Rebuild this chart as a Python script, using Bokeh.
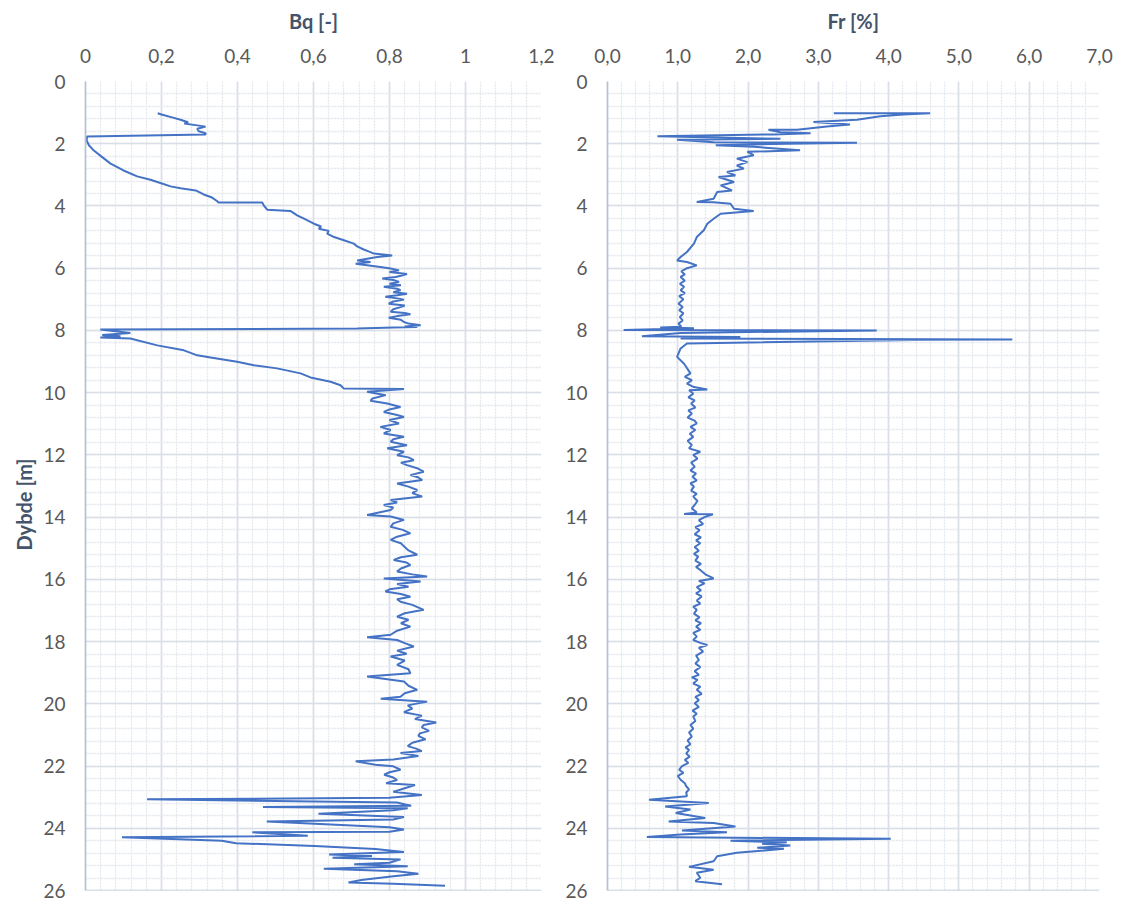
import numpy as np
from bokeh.plotting import figure
from bokeh.models import (Range1d, LinearAxis, SingleIntervalTicker, FixedTicker,
                          CustomJSTickFormatter, Span, Title, ColumnDataSource)
from bokeh.layouts import row
from bokeh.embed import file_html
from bokeh.resources import INLINE

# ---------------- data ----------------
bq_depth = [1.02, 1.06, 1.16, 1.23, 1.31, 1.35, 1.41, 1.45, 1.52, 1.60, 1.66, 1.70,
            1.77, 1.89, 2.05, 2.22, 2.43, 2.64, 2.86, 3.05, 3.16, 3.26, 3.37, 3.43,
            3.50, 3.63, 3.73, 3.84, 3.89, 3.89, 3.98, 4.12, 4.16, 4.30, 4.41, 4.57,
            4.66, 4.73, 4.80, 4.89, 5.00, 5.10, 5.21, 5.30, 5.40, 5.46, 5.53, 5.59,
            5.64, 5.75, 5.80, 5.86, 5.96, 6.01, 6.07, 6.12, 6.19, 6.24, 6.28, 6.33,
            6.38, 6.44, 6.50, 6.55, 6.60, 6.66, 6.71, 6.77, 6.82, 6.87, 6.92, 6.97,
            7.01, 7.07, 7.14, 7.20, 7.25, 7.32, 7.40, 7.44, 7.48, 7.54, 7.59, 7.66,
            7.73, 7.78, 7.83, 7.87, 7.89, 7.91, 7.94, 7.97, 8.08, 8.15, 8.19, 8.23,
            8.26, 8.48, 8.64, 8.80, 8.87, 9.01, 9.12, 9.22, 9.38, 9.51, 9.65, 9.76,
            9.87, 9.88, 9.97, 10.08, 10.19, 10.26, 10.35, 10.46, 10.54, 10.62, 10.72, 10.78,
            10.88, 10.99, 11.10, 11.20, 11.31, 11.42, 11.50, 11.58, 11.69, 11.79, 11.90, 12.01,
            12.08, 12.17, 12.25, 12.33, 12.44, 12.54, 12.65, 12.72, 12.81, 12.92, 13.02, 13.13,
            13.23, 13.34, 13.45, 13.53, 13.61, 13.69, 13.77, 13.93, 13.98, 14.09, 14.20, 14.31,
            14.41, 14.52, 14.63, 14.73, 14.84, 14.94, 15.07, 15.21, 15.29, 15.38, 15.46, 15.54,
            15.65, 15.75, 15.84, 15.91, 15.97, 16.07, 16.15, 16.24, 16.32, 16.39, 16.47, 16.56,
            16.64, 16.72, 16.82, 16.98, 17.09, 17.20, 17.30, 17.41, 17.52, 17.65, 17.78, 17.86,
            17.95, 18.05, 18.16, 18.29, 18.39, 18.48, 18.61, 18.75, 18.89, 19.02, 19.12, 19.28,
            19.42, 19.55, 19.66, 19.77, 19.84, 19.93, 20.05, 20.15, 20.27, 20.38, 20.49, 20.60,
            20.68, 20.76, 20.87, 20.95, 21.03, 21.14, 21.25, 21.36, 21.44, 21.52, 21.58, 21.68,
            21.79, 21.85, 21.96, 22.01, 22.12, 22.20, 22.28, 22.37, 22.45, 22.55, 22.61, 22.72,
            22.83, 22.93, 23.02, 23.07, 23.17, 23.28, 23.32, 23.36, 23.42, 23.53, 23.64, 23.72,
            23.78, 23.97, 24.04, 24.11, 24.13, 24.24, 24.29, 24.40, 24.48, 24.57, 24.67, 24.76,
            24.84, 24.89, 24.95, 25.00, 25.11, 25.16, 25.22, 25.30, 25.38, 25.46, 25.54, 25.66,
            25.74, 25.78, 25.85]
bq_value = [0.19, 0.20, 0.23, 0.25, 0.27, 0.26, 0.294, 0.316, 0.294, 0.298, 0.316, 0.316,
            0.004, 0.003, 0.009, 0.022, 0.044, 0.066, 0.10, 0.136, 0.171, 0.197, 0.224, 0.25,
            0.29, 0.311, 0.333, 0.346, 0.35, 0.465, 0.469, 0.478, 0.539, 0.557, 0.575, 0.601,
            0.62, 0.614, 0.64, 0.636, 0.654, 0.68, 0.706, 0.715, 0.732, 0.745, 0.759, 0.807,
            0.768, 0.715, 0.75, 0.711, 0.776, 0.803, 0.825, 0.80, 0.846, 0.83, 0.816, 0.781,
            0.81, 0.825, 0.80, 0.83, 0.785, 0.82, 0.829, 0.81, 0.846, 0.82, 0.789, 0.82,
            0.838, 0.81, 0.798, 0.84, 0.829, 0.81, 0.803, 0.84, 0.855, 0.82, 0.798, 0.83,
            0.838, 0.85, 0.882, 0.84, 0.873, 0.811, 0.715, 0.039, 0.118, 0.044, 0.092, 0.039,
            0.118, 0.189, 0.259, 0.294, 0.329, 0.399, 0.443, 0.504, 0.566, 0.592, 0.645, 0.671,
            0.68, 0.838, 0.741, 0.79, 0.755, 0.75, 0.794, 0.829, 0.80, 0.785, 0.82, 0.838,
            0.80, 0.825, 0.776, 0.803, 0.785, 0.838, 0.81, 0.803, 0.846, 0.794, 0.838, 0.820,
            0.85, 0.864, 0.83, 0.846, 0.875, 0.890, 0.855, 0.875, 0.886, 0.820, 0.85, 0.873,
            0.86, 0.886, 0.803, 0.82, 0.785, 0.81, 0.803, 0.741, 0.803, 0.838, 0.81, 0.803,
            0.835, 0.855, 0.82, 0.803, 0.83, 0.838, 0.85, 0.873, 0.83, 0.811, 0.845, 0.855,
            0.83, 0.820, 0.86, 0.899, 0.785, 0.882, 0.82, 0.85, 0.80, 0.789, 0.83, 0.855,
            0.82, 0.829, 0.86, 0.890, 0.84, 0.82, 0.85, 0.83, 0.855, 0.82, 0.803, 0.741,
            0.82, 0.84, 0.864, 0.82, 0.845, 0.803, 0.84, 0.82, 0.85, 0.855, 0.741, 0.838,
            0.85, 0.873, 0.84, 0.829, 0.777, 0.899, 0.848, 0.86, 0.838, 0.885, 0.867, 0.923,
            0.89, 0.885, 0.904, 0.88, 0.876, 0.895, 0.86, 0.848, 0.87, 0.885, 0.829, 0.876,
            0.81, 0.711, 0.763, 0.81, 0.829, 0.80, 0.786, 0.81, 0.820, 0.791, 0.867, 0.838,
            0.81, 0.885, 0.80, 0.162, 0.82, 0.857, 0.467, 0.848, 0.81, 0.613, 0.838, 0.81,
            0.477, 0.80, 0.838, 0.80, 0.439, 0.585, 0.096, 0.359, 0.396, 0.603, 0.763, 0.838,
            0.641, 0.754, 0.650, 0.829, 0.80, 0.707, 0.848, 0.627, 0.82, 0.876, 0.81, 0.726,
            0.692, 0.81, 0.946]

fr_depth = [1.02, 1.02, 1.06, 1.12, 1.23, 1.30, 1.38, 1.45, 1.55, 1.55, 1.63, 1.66,
            1.70, 1.76, 1.84, 1.87, 1.95, 1.97, 2.00, 2.05, 2.10, 2.21, 2.26, 2.37,
            2.48, 2.59, 2.70, 2.80, 2.91, 3.02, 3.07, 3.23, 3.34, 3.50, 3.55, 3.77,
            3.87, 3.88, 3.93, 4.09, 4.16, 4.25, 4.41, 4.57, 4.78, 5.00, 5.21, 5.48,
            5.64, 5.75, 5.80, 5.91, 6.00, 6.10, 6.20, 6.28, 6.40, 6.50, 6.60, 6.71,
            6.80, 6.90, 7.00, 7.14, 7.25, 7.35, 7.45, 7.57, 7.68, 7.78, 7.88, 7.91,
            7.93, 7.99, 8.00, 8.08, 8.19, 8.21, 8.26, 8.29, 8.31, 8.42, 8.58, 8.85,
            9.07, 9.38, 9.49, 9.60, 9.71, 9.82, 9.90, 9.92, 10.03, 10.15, 10.25, 10.35,
            10.48, 10.57, 10.67, 10.80, 10.90, 10.99, 11.10, 11.20, 11.32, 11.42, 11.55, 11.68,
            11.79, 11.90, 12.00, 12.12, 12.25, 12.38, 12.50, 12.60, 12.70, 12.82, 12.92, 13.02,
            13.15, 13.25, 13.34, 13.48, 13.61, 13.72, 13.85, 13.90, 13.91, 14.00, 14.10, 14.22,
            14.32, 14.42, 14.55, 14.65, 14.75, 14.84, 14.96, 15.08, 15.18, 15.27, 15.40, 15.50,
            15.60, 15.70, 15.85, 15.97, 16.05, 16.13, 16.25, 16.35, 16.45, 16.55, 16.68, 16.78,
            16.88, 16.98, 17.10, 17.22, 17.32, 17.41, 17.52, 17.62, 17.72, 17.84, 17.95, 18.05,
            18.11, 18.20, 18.32, 18.45, 18.59, 18.70, 18.82, 18.95, 19.07, 19.15, 19.23, 19.35,
            19.45, 19.55, 19.68, 19.78, 19.88, 19.98, 20.10, 20.22, 20.32, 20.41, 20.55, 20.68,
            20.80, 20.92, 21.05, 21.18, 21.30, 21.40, 21.48, 21.60, 21.70, 21.80, 21.90, 22.00,
            22.12, 22.22, 22.32, 22.44, 22.55, 22.65, 22.75, 22.85, 22.97, 23.08, 23.19, 23.30,
            23.40, 23.51, 23.67, 23.78, 23.83, 23.94, 24.07, 24.13, 24.20, 24.28, 24.34, 24.40,
            24.45, 24.50, 24.55, 24.63, 24.66, 24.79, 24.90, 25.06, 25.24, 25.33, 25.43, 25.59,
            25.70, 25.80]
fr_value = [3.22, 4.59, 4.21, 3.88, 3.55, 2.93, 3.45, 3.12, 2.70, 2.29, 2.46, 2.89,
            2.36, 0.71, 2.46, 0.99, 1.51, 3.55, 2.55, 1.54, 2.08, 2.74, 1.99, 2.08,
            1.84, 1.99, 1.84, 1.94, 1.70, 1.82, 1.58, 1.80, 1.61, 1.77, 1.56, 1.51,
            1.27, 1.51, 1.75, 1.80, 2.08, 1.61, 1.51, 1.42, 1.37, 1.27, 1.23, 1.13,
            1.04, 0.99, 1.13, 1.27, 1.13, 1.05, 1.10, 1.04, 1.10, 1.03, 1.09, 1.04,
            1.10, 1.02, 1.08, 1.01, 1.07, 1.02, 1.08, 1.03, 1.07, 1.01, 1.05, 0.75,
            1.23, 0.23, 3.83, 1.04, 0.49, 1.89, 1.04, 5.76, 4.36, 1.13, 1.04, 0.99,
            1.09, 1.18, 1.10, 1.20, 1.13, 1.23, 1.42, 1.16, 1.22, 1.15, 1.24, 1.19,
            1.25, 1.15, 1.20, 1.14, 1.24, 1.27, 1.18, 1.25, 1.17, 1.22, 1.14, 1.20,
            1.16, 1.32, 1.22, 1.28, 1.19, 1.24, 1.18, 1.26, 1.21, 1.27, 1.18, 1.23,
            1.19, 1.27, 1.22, 1.28, 1.24, 1.20, 1.27, 1.09, 1.50, 1.38, 1.30, 1.36,
            1.25, 1.31, 1.24, 1.33, 1.26, 1.32, 1.24, 1.30, 1.23, 1.29, 1.25, 1.33,
            1.26, 1.32, 1.40, 1.51, 1.30, 1.38, 1.27, 1.33, 1.26, 1.34, 1.27, 1.32,
            1.22, 1.27, 1.23, 1.31, 1.25, 1.33, 1.26, 1.32, 1.22, 1.27, 1.22, 1.33,
            1.42, 1.30, 1.36, 1.26, 1.30, 1.25, 1.32, 1.24, 1.30, 1.20, 1.28, 1.22,
            1.32, 1.27, 1.34, 1.25, 1.30, 1.24, 1.30, 1.21, 1.27, 1.22, 1.25, 1.18,
            1.22, 1.16, 1.20, 1.14, 1.18, 1.11, 1.16, 1.12, 1.17, 1.10, 1.15, 1.06,
            1.02, 1.08, 1.00, 1.04, 1.10, 1.12, 1.16, 1.12, 1.13, 0.59, 1.44, 0.82,
            1.18, 0.97, 1.39, 0.87, 1.51, 1.82, 1.06, 1.70, 1.04, 0.56, 4.03, 1.75,
            2.55, 2.20, 2.60, 2.13, 2.51, 1.84, 1.56, 1.51, 1.16, 1.51, 1.27, 1.32,
            1.25, 1.63]

bq_ticks = [0, 0.2, 0.4, 0.6, 0.8, 1.0, 1.2]
bq_tick_labels = ["0", "0,2", "0,4", "0,6", "0,8", "1", "1,2"]
fr_ticks = [0, 1, 2, 3, 4, 5, 6, 7]
fr_tick_labels = ["0,0", "1,0", "2,0", "3,0", "4,0", "5,0", "6,0", "7,0"]
depth_ticks = [0, 2, 4, 6, 8, 10, 12, 14, 16, 18, 20, 22, 24, 26]
depth_tick_labels = ["0", "2", "4", "6", "8", "10", "12", "14", "16", "18", "20", "22", "24", "26"]

assert len(bq_depth) == len(bq_value)
assert len(fr_depth) == len(fr_value)

# ---------------- styling ----------------
FONT = "Lato"
LINE_COLOR = "#4472c4"
TICK_COLOR = "#595959"
TITLE_COLOR = "#44546a"
MAJOR_GRID = "#d9dee7"
MINOR_GRID = "#e3e7ee"
AXIS_COLOR = "#b4c0d4"
FRAME_H = 809

JS = ("for (let i = 0; i < t.length; i++) { if (Math.abs(t[i] - tick) < 1e-6) return l[i]; } "
      "return '';")


def fmt(ticks, labels):
    return CustomJSTickFormatter(args=dict(t=ticks, l=labels), code=JS)


def panel(depth, values, xmax, xint, xticks, xlabels, title, frame_w, bl, br):
    p = figure(frame_width=frame_w, frame_height=FRAME_H,
               x_range=Range1d(0, xmax), y_range=Range1d(26, 0),
               x_axis_location=None, y_axis_location=None,
               min_border_left=bl, min_border_right=br, min_border_top=81, min_border_bottom=11,
               output_backend="svg", toolbar_location=None, outline_line_color=None,
               background_fill_color="white", border_fill_color="white")
    p.xgrid.ticker = SingleIntervalTicker(interval=xint, num_minor_ticks=5)
    p.ygrid.ticker = SingleIntervalTicker(interval=2, num_minor_ticks=5)
    for g in (p.xgrid, p.ygrid):
        g.grid_line_color = MAJOR_GRID
        g.grid_line_width = 1.7
        g.minor_grid_line_color = MINOR_GRID
        g.minor_grid_line_width = 1.3
        g.minor_grid_line_dash = "2 1"

    top = LinearAxis(ticker=FixedTicker(ticks=xticks), formatter=fmt(xticks, xlabels),
                     axis_label=title, axis_label_text_font=FONT,
                     axis_label_text_font_style="bold", axis_label_text_font_size="20px",
                     axis_label_text_color=TITLE_COLOR, axis_label_standoff=13,
                     major_label_text_font=FONT, major_label_text_font_size="19px",
                     major_label_text_color=TICK_COLOR, major_label_standoff=19,
                     major_tick_in=0, major_tick_out=0, minor_tick_in=0, minor_tick_out=0,
                     axis_line_color=None)
    p.add_layout(top, "above")

    left = LinearAxis(ticker=FixedTicker(ticks=depth_ticks),
                      formatter=fmt(depth_ticks, depth_tick_labels),
                      major_label_text_font=FONT, major_label_text_font_size="19px",
                      major_label_text_color=TICK_COLOR, major_label_standoff=20,
                      major_tick_in=0, major_tick_out=0, minor_tick_in=0, minor_tick_out=0,
                      axis_line_color=AXIS_COLOR, axis_line_width=1.7)
    p.add_layout(left, "left")

    p.add_layout(Span(location=26, dimension="width", line_color=AXIS_COLOR, line_width=1.7))

    src = ColumnDataSource(data=dict(v=values, d=depth))
    p.line(x="v", y="d", source=src, line_color=LINE_COLOR, line_width=2)
    return p


p1 = panel(bq_depth, bq_value, 1.2, 0.2, bq_ticks, bq_tick_labels, "Bq [-]", 456, 85, 13)
p1.add_layout(Title(text="Dybde [m]", align="left", offset=340, text_font=FONT,
                    text_font_style="bold", text_font_size="20px", text_color=TITLE_COLOR),
              "left")
p2 = panel(fr_depth, fr_value, 7.0, 1.0, fr_ticks, fr_tick_labels, "Fr [%]", 492, 53, 14)

layout = row(p1, p2)
open("out.html", "w").write(file_html(layout, INLINE))
